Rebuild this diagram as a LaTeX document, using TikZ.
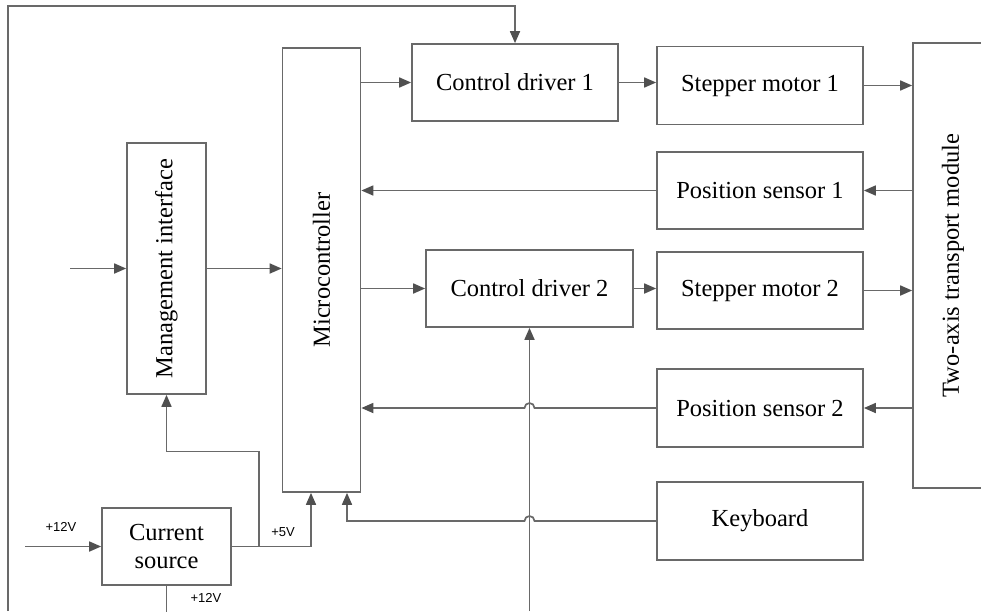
\documentclass[tikz,border=0pt]{standalone}
\usepackage{fontspec}
\setmainfont{Liberation Serif}
\newfontfamily\labelfont{Liberation Sans}
\usepackage{graphicx}
\usetikzlibrary{arrows.meta}
\definecolor{wiregray}{RGB}{105,105,105}
\definecolor{tipgray}{RGB}{80,80,80}
\tikzset{
  blockbox/.style={draw=wiregray,line width=1.7pt,fill=white,inner sep=0pt,font=\fontsize{24.5}{28}\selectfont},
  wire/.style={draw=wiregray,line width=1.7pt},
  arr/.style={-{Triangle[length=12pt,width=10pt,color=tipgray]}},
  volt/.style={font=\labelfont\fontsize{13}{15}\selectfont,inner sep=0pt},
}

\begin{document}
\begin{tikzpicture}[x=1pt,y=-1pt]
      \useasboundingbox (0,0) rectangle (981,611);
      \node [blockbox,minimum width=79,minimum height=251] (mi) at (166.5,268.5) {\rotatebox{90}{Management interface}};
      \node [blockbox,minimum width=78,minimum height=444] (mc) at (321.5,270) {\rotatebox{90}{Microcontroller}};
      \node [blockbox,minimum width=206,minimum height=77] (cd1) at (515,82.5) {Control driver 1};
      \node [blockbox,minimum width=206,minimum height=78] (sm1) at (760,85.5) {Stepper motor 1};
      \node [blockbox,minimum width=206,minimum height=77] (ps1) at (760,190.5) {Position sensor 1};
      \node [blockbox,minimum width=207,minimum height=77] (cd2) at (529.5,288.5) {Control driver 2};
      \node [blockbox,minimum width=206,minimum height=77] (sm2) at (760,290.5) {Stepper motor 2};
      \node [blockbox,minimum width=206,minimum height=78] (ps2) at (760,408) {Position sensor 2};
      \node [blockbox,minimum width=206,minimum height=78] (kb) at (760,521) {Keyboard};
      \node [blockbox,minimum width=80,minimum height=445] (tam) at (953,265.5) {\rotatebox{90}{Two-axis transport module}};
      \node [blockbox,minimum width=129,minimum height=77,align=center] (cs) at (166.5,546.5) {Current\\source};
      \coordinate (min) at (70,268.5);
      \coordinate (vin) at (25,546.5);
      \coordinate (br) at (259,546.5);
      \coordinate (kin) at (529.5,611);
      \coordinate (fb) at (8,611);
      \draw [wire,arr] (mc.east |- cd1.west)--(cd1.west);
      \draw [wire,arr] (cd1.east)--(cd1.east -| sm1.west);
      \draw [wire,arr] (sm1.east)--(sm1.east -| tam.west);
      \draw [wire,arr] (tam.west |- ps1.east)--(ps1.east);
      \draw [wire,arr] (ps1.west)--(ps1.west -| mc.east);
      \draw [wire,arr] (mc.east |- cd2.west)--(cd2.west);
      \draw [wire,arr] (cd2.east)--(cd2.east -| sm2.west);
      \draw [wire,arr] (sm2.east)--(sm2.east -| tam.west);
      \draw [wire,arr] (tam.west |- ps2.east)--(ps2.east);
      \draw [wire,arr] (ps2.west)--([xshift=5pt]ps2.west -| cd2.south) arc (0:180:5pt)--(ps2.west -| mc.east);
      \draw [wire,arr] (kb.west)--([xshift=5pt]kb.west -| cd2.south) arc (0:180:5pt) -| ([xshift=25.5pt]mc.south);
      \draw [wire,arr] (min)--(mi.west);
      \draw [wire,arr] (mi.east)--(mi.east -| mc.west);
      \draw [wire,arr] (vin)--(cs.west);
      \draw [wire,arr] (cs.east) -| ([xshift=-10.5pt]mc.south);
      \draw [wire,arr] (br)--++(0,-95) -| (mi.south);
      \draw [wire] (cs.south)--++(0,26);
      \draw [wire,arr] (kin)--(cd2.south);
      \draw [wire,arr] (fb) |- ([yshift=37pt]cd1.north)--(cd1.north);
      \node [volt] (v12a) at (61,527) {+12V};
      \node [volt] (v5) at (283,532) {+5V};
      \node [volt] (v12b) at (206,598) {+12V};
\end{tikzpicture}
\end{document}
